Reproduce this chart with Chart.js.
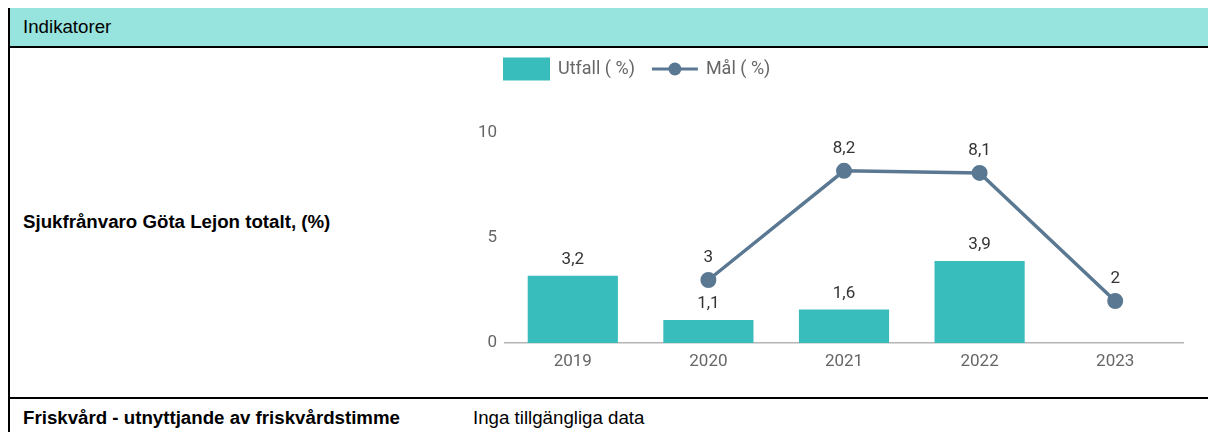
<!DOCTYPE html>
<html>
<head>
<meta charset="utf-8">
<script src="https://cdn.jsdelivr.net/npm/chart.js@4"></script>
<style>
  html, body { margin:0; padding:0; background:#fff; width:1208px; height:432px; overflow:hidden; }
  .abs { position:absolute; }
  .txt { font-family: Arial, "Liberation Sans", sans-serif; font-size:18.7px; color:#000; white-space:nowrap; line-height:20px; }
  .bold { font-weight:bold; }
</style>
</head>
<body>
<div class="abs" style="left:8px;top:8px;width:1200px;height:38px;background:#97e3de;"></div>
<div class="abs" style="left:8px;top:46px;width:1200px;height:2px;background:#000;"></div>
<div class="abs" style="left:8px;top:397px;width:1200px;height:2px;background:#000;"></div>
<div class="abs" style="left:8px;top:8px;width:2px;height:424px;background:#000;"></div>
<div class="abs txt" style="left:23px;top:17px;">Indikatorer</div>
<div class="abs txt bold" style="left:23px;top:212px;">Sjukfrånvaro Göta Lejon totalt, (%)</div>
<div class="abs txt bold" style="left:23px;top:408px;">Friskvård - utnyttjande av friskvårdstimme</div>
<div class="abs txt" style="left:473px;top:408px;">Inga tillgängliga data</div>
<div class="abs" style="left:460px;top:48px;width:748px;height:348px;">
  <canvas id="c"></canvas>
</div>
<script>
const categories = ['2019', '2020', '2021', '2022', '2023'];
const utfall = [3.2, 1.1, 1.6, 3.9, null];
const mal = [null, 3, 8.2, 8.1, 2];
const yTickValues = [0, 5, 10];
const seriesNames = ['Utfall ( %)', 'Mål ( %)'];

const barColor = '#38bdbc';
const lineColor = '#5a7892';
const fontFam = 'Roboto, "Noto Sans", sans-serif';

function fmt(v) { return String(v).replace('.', ','); }

const labelPlugin = {
  id: 'valLabels',
  afterDatasetsDraw(chart) {
    const ctx = chart.ctx;
    ctx.save();
    ctx.font = '17px ' + fontFam;
    ctx.fillStyle = '#333';
    ctx.textAlign = 'center';
    ctx.textBaseline = 'middle';
    chart.data.datasets.forEach((ds, i) => {
      const meta = chart.getDatasetMeta(i);
      meta.data.forEach((el, j) => {
        const v = ds.data[j];
        if (v === null || v === undefined) return;
        const off = ds.type === 'bar' ? 16 : 22;
        ctx.fillText(fmt(v), el.x, el.y - off);
      });
    });
    ctx.restore();
  }
};

const legendPlugin = {
  id: 'customLegend',
  afterDraw(chart) {
    const ctx = chart.ctx;
    const x0 = chart.chartArea.left - 2;
    const yc = 21;
    ctx.save();
    ctx.font = '18px ' + fontFam;
    ctx.textBaseline = 'middle';
    ctx.textAlign = 'left';
    ctx.fillStyle = barColor;
    ctx.fillRect(x0, yc - 11.5, 47, 23);
    ctx.fillStyle = '#666';
    ctx.fillText(seriesNames[0], x0 + 55, yc);
    const w0 = ctx.measureText(seriesNames[0]).width;
    const lx = x0 + 55 + w0 + 17;
    ctx.strokeStyle = lineColor;
    ctx.lineWidth = 3;
    ctx.beginPath();
    ctx.moveTo(lx, yc);
    ctx.lineTo(lx + 46, yc);
    ctx.stroke();
    ctx.fillStyle = lineColor;
    ctx.beginPath();
    ctx.arc(lx + 23, yc, 6.5, 0, Math.PI * 2);
    ctx.fill();
    ctx.fillStyle = '#666';
    ctx.fillText(seriesNames[1], lx + 54, yc);
    ctx.restore();
  }
};

new Chart(document.getElementById('c'), {
  data: {
    labels: categories,
    datasets: [
      {
        type: 'line',
        label: seriesNames[1],
        data: mal,
        borderColor: lineColor,
        backgroundColor: lineColor,
        borderWidth: 3.5,
        pointRadius: 7,
        pointBorderWidth: 2,
        pointBackgroundColor: lineColor,
        pointBorderColor: lineColor,
        tension: 0,
        spanGaps: false
      },
      {
        type: 'bar',
        label: seriesNames[0],
        data: utfall,
        backgroundColor: barColor,
        borderWidth: 0,
        categoryPercentage: 1,
        barPercentage: 0.665
      }
    ]
  },
  options: {
    responsive: true,
    maintainAspectRatio: false,
    animation: false,
    layout: { padding: { top: 85, right: 25, left: 0, bottom: 0 } },
    plugins: { legend: { display: false }, tooltip: { enabled: false } },
    scales: {
      x: {
        grid: { display: false, drawTicks: false },
        border: { display: true, color: '#b5b5b5', width: 1.5 },
        ticks: { color: '#666', font: { family: fontFam, size: 17 }, padding: 9 },
        afterFit(s) { s.height = 53; }
      },
      y: {
        min: 0, max: 10,
        grid: { display: false, drawTicks: false },
        border: { display: false },
        afterBuildTicks(s) { s.ticks = yTickValues.map(v => ({ value: v })); },
        ticks: { color: '#666', font: { family: fontFam, size: 17 }, padding: 8 },
        afterFit(s) { s.width = 45; }
      }
    }
  },
  plugins: [labelPlugin, legendPlugin]
});
</script>
</body>
</html>
